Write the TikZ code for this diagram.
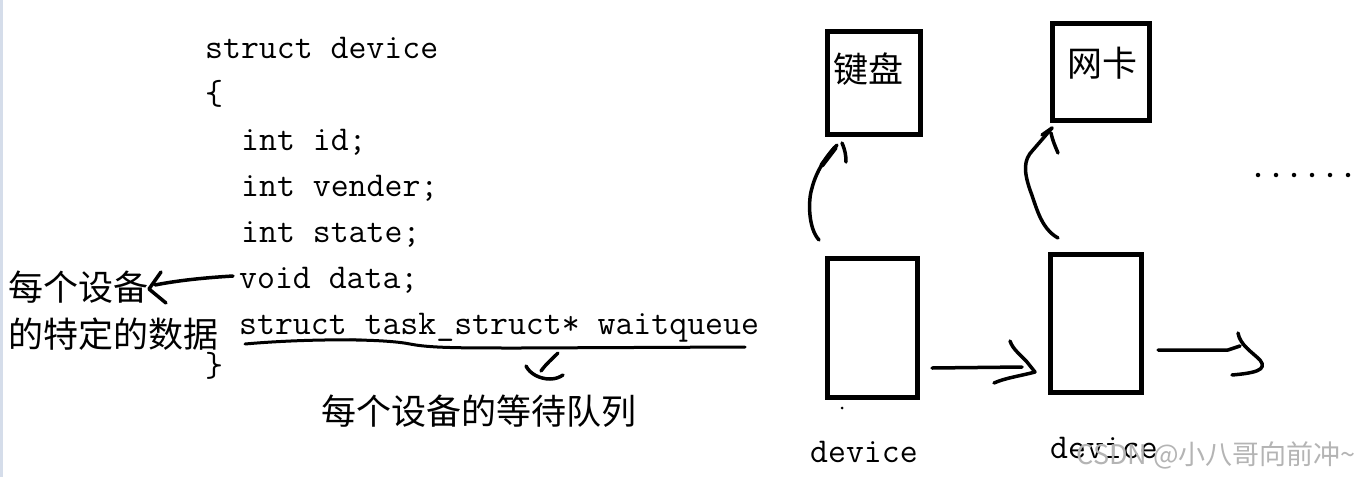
\documentclass[tikz,border=0pt]{standalone}
\usepackage{fontspec}
\newfontfamily\zhfont{Noto Sans CJK SC}
\setmonofont{Latin Modern Mono}
\definecolor{sidebar}{HTML}{D5DDEA}
\definecolor{wmgray}{HTML}{B4B4B4}
\tikzset{
  code/.style={font=\ttfamily\fontsize{34.8}{40}\selectfont, anchor=base west, inner sep=0pt},
  zh/.style={font=\zhfont\fontsize{35}{40}\selectfont, anchor=base west, inner sep=0pt},
  boxnode/.style={draw, line width=5pt, inner sep=0pt},
  hand/.style={line width=3.5pt, line cap=round, line join=round},
  dotnode/.style={circle, fill, inner sep=0pt, minimum size=4.5pt}
}
\begin{document}
\begin{tikzpicture}[x=1pt,y=-1pt]
\useasboundingbox (0,0) rectangle (1358,477);
\fill[white] (0,0) rectangle (1358,477);
\fill[sidebar] (0,0) rectangle (3,477);

% code
\node[code] (l1) at (205,58) {struct device};
\node[code] (l2) at (205,104) {\{};
\node[code] (l3) at (241,150) {int id;};
\node[code] (l4) at (241,196) {int vender;};
\node[code] (l5) at (241,242) {int state;};
\node[code] (l6) at (239,288) {void data;};
\node[code] (l7) at (239,334) {struct\_task\_struct* waitqueue};
\node[code] (l8) at (205,376) {\}};

% left notes
\node[zh] (n1) at (8,300) {每个设备};
\node[zh] (n2) at (8,347) {的特定的数据};
\node[zh] (n3) at (321,424) {每个设备的等待队列};

% arrow from void data to note
\coordinate (v1) at (233,276);
\coordinate (v2) at (155,285);
\draw[hand] (v1) .. controls (200,278) and (175,281) .. (v2);
\draw[hand] (161,272) -- (149,289) -- (166,303);

% wavy underline
\draw[hand,line width=3pt] (245,344) .. controls (300,339) and (380,338) .. (410,344)
  .. controls (430,348) and (460,348) .. (520,348) -- (745,347);
% curl
\draw[hand] (558,353) .. controls (552,359) and (546,364) .. (541,371);
\draw[hand] (526,366) .. controls (530,374) and (540,379) .. (550,379) .. controls (556,379) and (560,377) .. (563,375);

% right boxes
\node[boxnode, minimum width=93pt, minimum height=103pt] (kbd) at (874,83) {};
\node[zh] (kbdt) at (833,82) {键盘};
\node[boxnode, minimum width=97pt, minimum height=97pt] (nic) at (1101,72) {};
\node[zh] (nict) at (1067,76) {网卡};
\node[boxnode, minimum width=90pt, minimum height=139pt] (dev1) at (872.5,328) {};
\node[boxnode, minimum width=91pt, minimum height=138pt] (dev2) at (1095.5,323.5) {};

\node[code] (d1) at (810,462) {device};
\node[code] (d2) at (1050,458) {device};
\node[dotnode, minimum size=3pt] (sd) at (842,408) {};

% arrows up
\coordinate (a1s) at (819,240);
\coordinate (a1e) at (837,145);
\draw[hand] (a1s) .. controls (808,228) and (808,200) .. (812,188)
  .. controls (816,172) and (826,156) .. (a1e);
\draw[hand,line width=5pt] (822,165) -- (835,148);
\draw[hand] (842,143) .. controls (845,150) and (846,155) .. (846,162);

\coordinate (a2s) at (1058,238);
\coordinate (a2e) at (1052,128);
\draw[hand] (a2s) .. controls (1040,228) and (1036,205) .. (1030,190)
  .. controls (1024,172) and (1023,160) .. (1033,150) -- (a2e);
\draw[hand] (1042,135) -- (a2e);
\draw[hand] (1051,133) .. controls (1053,142) and (1056,148) .. (1058,153);

% horizontal arrows
\draw[hand] (932,368) -- (1022,367);
\draw[hand] (1010,341) .. controls (1013,350) and (1022,356) .. (1027,362)
  -- (1035,372) .. controls (1020,376) and (1005,378) .. (994,383);
\draw[hand] (1158,350) -- (1228,350) -- (1240,346);
\draw[hand] (1238,333) .. controls (1240,345) and (1252,352) .. (1260,360)
  .. controls (1268,370) and (1255,373) .. (1232,375);

% dots
\foreach \i/\xx in {1/1258,2/1276,3/1294,4/1312,5/1330,6/1348}
  \node[dotnode] (dot\i) at (\xx,175) {};

% watermark
\node[font=\zhfont\fontsize{27}{30}\selectfont, text=wmgray, anchor=base east, inner sep=0pt] (wm) at (1356,464) {CSDN @小八哥向前冲\textasciitilde};
\end{tikzpicture}
\end{document}
